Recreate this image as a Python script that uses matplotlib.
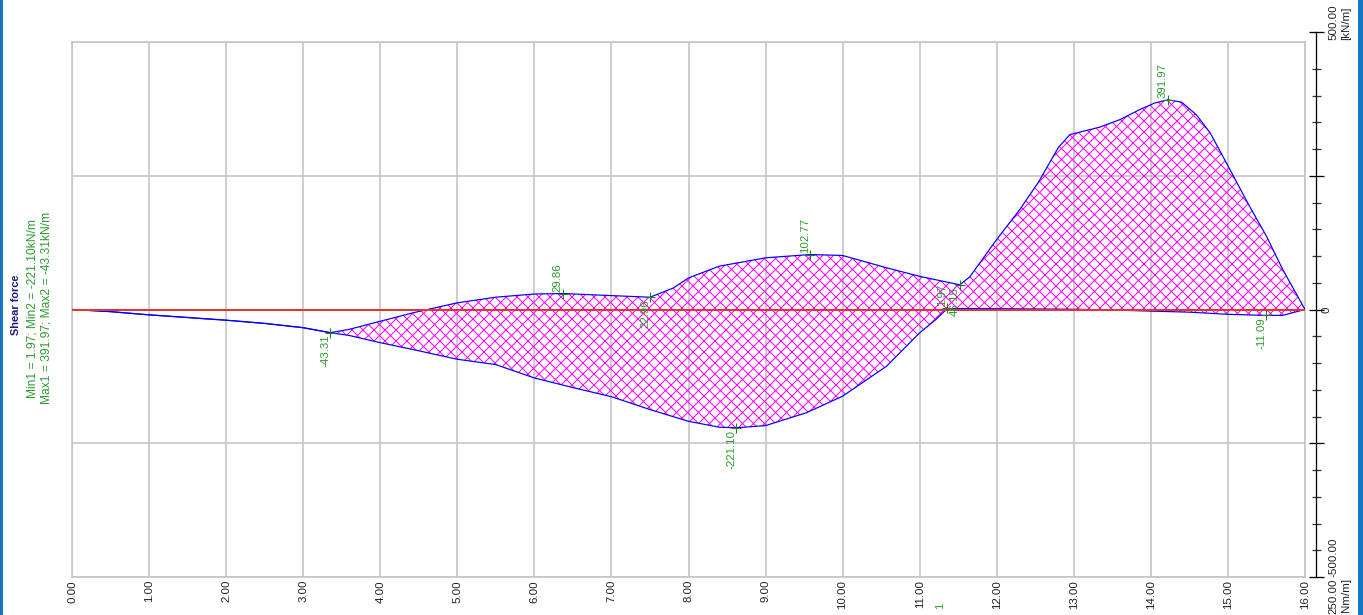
import numpy as np
import matplotlib
matplotlib.use("Agg")
import matplotlib.pyplot as plt
from matplotlib.patches import Rectangle
from matplotlib.ticker import FixedLocator

# envelope of the shear force along the member, x in m, V in kN/m
upper_x = [0.0, 0.5, 1.0, 1.5, 2.0, 2.5, 3.0, 3.35, 3.6, 4.0, 4.43, 5.0, 5.5,
           6.0, 6.37, 7.0, 7.5, 7.8, 8.0, 8.4, 9.0, 9.58, 10.0, 10.57, 11.0,
           11.52, 11.65, 12.0, 12.3, 12.55, 12.8, 12.95, 13.34, 13.6, 13.86,
           14.05, 14.22, 14.4, 14.59, 14.77, 14.98, 15.28, 15.5, 15.71, 16.0]
upper_y = [0.0, -4, -10, -15, -20, -26, -34, -43.31, -37, -22, -6, 12.5, 23,
           29, 29.86, 26, 22.96, 40, 59, 81, 96.6, 102.77, 101, 78, 62,
           46.15, 61, 131, 187, 240, 303, 327, 341, 355, 374,
           386, 391.97, 387.5, 364, 330, 274, 193, 137, 75, 0.0]

lower_x = [0.0, 0.5, 1.0, 1.5, 2.0, 2.5, 3.0, 3.35, 3.6, 4.0, 4.43, 5.0, 5.5,
           6.0, 6.5, 7.0, 7.5, 8.0, 8.4, 8.62, 9.0, 9.53, 10.0, 10.57, 11.0,
           11.2, 11.36, 12.0, 13.0, 13.5, 14.0, 14.5, 15.0, 15.5, 15.71, 16.0]
lower_y = [0.0, -4, -10, -15, -20, -26, -34, -43.31, -48.6, -62, -75, -93, -103,
           -128, -146, -163, -187, -209, -220, -221.10, -217, -193, -162, -106, -43.6,
           -20, 1.97, 1.5, 0.5, -1, -3, -5, -9, -11.09, -11, 0.0]

# extreme values written next to the curves
label_x = [3.35, 6.37, 7.50, 8.62, 9.58, 11.36, 11.52, 14.22, 15.50]
label_y = [-43.31, 29.86, 22.96, -221.10, 102.77, 1.97, 46.15, 391.97, -11.09]
label_up = [False, True, False, False, True, True, False, True, False]

x_ticks = np.arange(0, 17, 1)
y_grid = [-500, -250, 0, 250, 500]

W, H, DPI = 1363, 615, 66


def pt(px):
    return px * 72.0 / DPI


plt.rcParams["font.family"] = ["Liberation Sans", "DejaVu Sans"]
plt.rcParams["hatch.linewidth"] = pt(1.0)
plt.rcParams["hatch.color"] = "#ff00ff"

GREEN = "#2f9a30"
GRID = "#c4c4c4"

fig = plt.figure(figsize=(W / DPI, H / DPI), dpi=DPI)
ax = fig.add_axes([72 / W, 1 - 577 / H, (1305 - 72) / W, (577 - 42) / H])

# hatched band between max and min
poly_x = np.r_[upper_x, lower_x[::-1]]
poly_y = np.r_[upper_y, lower_y[::-1]]
ax.fill(poly_x, poly_y, facecolor="none", edgecolor="#ff00ff", hatch="xx",
        linewidth=0, zorder=2)
ax.plot(upper_x, upper_y, color="#0000ff", lw=pt(1.2), zorder=3)
ax.plot(lower_x, lower_y, color="#0000ff", lw=pt(1.2), zorder=3)
ax.axhline(0, color="#e8342c", lw=pt(2.0), zorder=4)

ax.plot(label_x, label_y, "+", color="#237a23", ms=pt(10), mew=pt(1.1), zorder=5)
for lx, ly, up in zip(label_x, label_y, label_up):
    ax.annotate(f"{ly:.2f}", (lx, ly), xytext=(pt(0), pt(2) if up else pt(-2)),
                textcoords="offset points", rotation=90, ha="right",
                va="bottom" if up else "top", color=GREEN, fontsize=pt(11.5),
                zorder=6)

ax.set_xlim(0, 16)
ax.set_ylim(-500, 500)
ax.set_xticks(x_ticks)
ax.set_xticklabels([f"{v:.2f}" for v in x_ticks], rotation=90)
ax.set_yticks(y_grid)
ax.tick_params(axis="y", left=False, labelleft=False)
ax.tick_params(axis="x", length=0, pad=pt(3), labelsize=pt(11.5),
               labelcolor="#222222")
ax.grid(True, color=GRID, lw=pt(1.6))
ax.set_axisbelow(True)
for s in ax.spines.values():
    s.set_color(GRID)
    s.set_linewidth(pt(1.6))

# value scale on the right
top = 500 + 10 / 0.535
ax2 = fig.add_axes([1316 / W, 1 - 577 / H, 0.0005, (577 - 32) / H])
ax2.set_ylim(-500, top)
ax2.patch.set_visible(False)
for name in ["right", "top", "bottom"]:
    ax2.spines[name].set_visible(False)
ax2.spines["left"].set_linewidth(pt(1.3))
ax2.set_xticks([])
ax2.yaxis.set_major_locator(FixedLocator([-500, -250, 0, 250, top]))
ax2.yaxis.set_minor_locator(FixedLocator(
    [v for v in range(-450, 500, 50) if v % 250 != 0]))
ax2.tick_params(which="major", direction="inout", length=pt(15), width=pt(1.3),
                color="black", labelleft=False)
ax2.tick_params(which="minor", direction="inout", length=pt(9), width=pt(1.3),
                color="#3a3a3a")

ytr = ax2.get_yaxis_transform()
scale_kw = dict(textcoords="offset points", rotation=90, fontsize=pt(11.5),
                color="#222222", xycoords=ytr)
ax2.annotate("500.00", (0, top), xytext=(pt(17), pt(10)), ha="center",
             va="center", **scale_kw)
ax2.annotate("[kN/m]", (0, top), xytext=(pt(30), pt(9)), ha="center",
             va="center", **scale_kw)
ax2.annotate("0", (0, 0), xytext=(pt(10), 0), ha="center", va="center",
             **scale_kw)
ax2.annotate("-500.00", (0, -500), xytext=(pt(17), pt(0)), ha="center",
             va="bottom", **scale_kw)
ax2.annotate("250.00", (0, -500), xytext=(pt(17), pt(-2)), ha="center",
             va="top", **scale_kw)
ax2.annotate("Nm/m]", (0, -500), xytext=(pt(30), pt(-1)), ha="center",
             va="top", **scale_kw)

# title block on the left
fig.text(16 / W, 1 - 305 / H, "Shear force", rotation=90, ha="center",
         va="center", fontsize=pt(11), fontweight="bold", color="#1c1c80")
fig.text(32.5 / W, 1 - 309 / H, "Min1 = 1.97; Min2 = -221.10kN/m", rotation=90,
         ha="center", va="center", fontsize=pt(12), color=GREEN)
fig.text(46.5 / W, 1 - 308 / H, "Max1 = 391.97; Max2 = -43.31kN/m", rotation=90,
         ha="center", va="center", fontsize=pt(12), color=GREEN)
fig.text(940 / W, 1 - 603 / H, "1", rotation=90, ha="center", va="top",
         fontsize=pt(11.5), color=GREEN)

# window edges
fig.add_artist(Rectangle((0, 0), 3 / W, 1, transform=fig.transFigure,
                         color="#1677c4", lw=0))
fig.add_artist(Rectangle((1358 / W, 0), 5 / W, 1, transform=fig.transFigure,
                         color="#1677c4", lw=0))

fig.savefig("out.png", dpi=DPI)
